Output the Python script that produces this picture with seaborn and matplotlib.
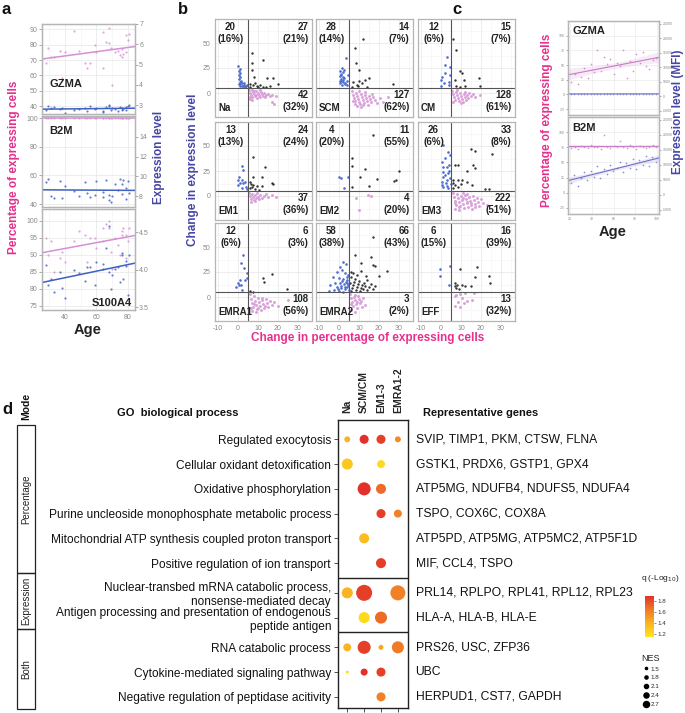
import numpy as np
import pandas as pd
import matplotlib
matplotlib.use('Agg')
import matplotlib.pyplot as plt
from matplotlib.colors import LinearSegmentedColormap, Normalize
from matplotlib.cm import ScalarMappable
from matplotlib.lines import Line2D
from matplotlib.patches import Rectangle
import seaborn as sns

# ---------------- data: panel a ----------------
a_age = [28, 29, 31, 33, 37, 38, 40, 46, 49, 53, 54, 56, 59, 60, 64, 64,
         66, 68, 68, 69, 70, 72, 74, 75, 76, 76, 77, 79, 79, 80, 81]
gzma_pct = [68, 78, 72, 72, 76, 58, 75, 89, 76, 68, 65, 68, 80, 75, 88, 65,
            82, 91, 81, 78, 54, 75, 76, 73, 77, 72, 74, 75, 86, 83, 87]
gzma_lvl = [2.75, 2.95, 2.85, 2.9, 2.8, 2.85, 2.6, 2.75, 2.8, 2.85, 2.7, 2.95, 2.8, 2.85, 2.7, 2.65,
            2.9, 2.95, 3.0, 2.75, 2.85, 2.8, 2.7, 2.9, 2.75, 2.85, 2.8, 2.9, 2.75, 2.95, 3.0]
b2m_pct = [100, 100, 100, 100, 100, 100, 100, 100, 100, 100, 100, 100, 100, 100, 100, 100,
           100, 100, 100, 100, 100, 100, 100, 100, 100, 100, 100, 100, 100, 100, 100]
b2m_lvl = [9.4, 9.7, 8.0, 7.8, 9.5, 7.8, 9.0, 8.5, 8.0, 9.4, 8.3, 7.9, 8.1, 9.5, 8.4, 7.9,
           9.6, 8.1, 7.6, 7.4, 8.0, 9.2, 8.6, 9.7, 9.2, 8.2, 9.6, 8.8, 7.7, 9.5, 8.3]
s100_pct = [95, 90, 94, 85, 89, 91, 88, 94, 97, 96, 88, 95, 95, 92, 98, 94,
            99, 98, 100, 91, 86, 95, 93, 90, 97, 96, 98, 89, 96, 94, 98]
s100_lvl = [4.06, 3.79, 3.88, 3.70, 3.97, 3.75, 3.62, 3.99, 3.95, 3.85, 4.03, 4.03, 3.79, 4.10, 4.08, 4.01,
            4.29, 4.58, 3.97, 3.74, 3.93, 4.01, 4.03, 3.83, 4.20, 4.22, 3.88, 4.05, 4.12, 3.66, 4.20]

# ---------------- data: panel b ----------------
subsets = ['Na', 'SCM', 'CM', 'EM1', 'EM2', 'EM3', 'EMRA1', 'EMRA2', 'EFF']
n_ul = ['20\n(16%)', '28\n(14%)', '12\n(6%)', '13\n(13%)', '4\n(20%)', '26\n(6%)', '12\n(6%)', '58\n(38%)', '6\n(15%)']
n_ur = ['27\n(21%)', '14\n(7%)', '15\n(7%)', '24\n(24%)', '11\n(55%)', '33\n(8%)', '6\n(3%)', '66\n(43%)', '16\n(39%)']
n_lr = ['42\n(32%)', '127\n(62%)', '128\n(61%)', '37\n(36%)', '4\n(20%)', '222\n(51%)', '108\n(56%)', '3\n(2%)', '13\n(32%)']

blue_pts = {
    'Na': [(0.2, 27), (0.8, 24), (0.5, 22), (1.2, 20), (0.3, 18), (0.9, 16), (0.4, 14), (1.5, 12), (0.8, 11), (2, 10),
           (1.2, 9), (3, 8.5), (2.5, 7.5), (4, 7), (3.5, 6.5), (1.8, 6.8), (4.5, 8), (0.6, 9.5), (2.8, 10.5), (1, 7.5)],
    'SCM': [(3.5, 35), (1.3, 25), (2.2, 21), (0.6, 22), (1, 19), (0.5, 17), (1.8, 16), (0.8, 14), (2.5, 15), (1.2, 12),
            (0.5, 10), (2, 11), (3, 9), (1.5, 8.5), (3.8, 12), (4.2, 8), (0.9, 18.5), (2.6, 23), (1.9, 13), (0.4, 12.5),
            (4.5, 18), (3.2, 10.5)],
    'CM': [(3, 36), (2.2, 28), (4.7, 26), (0.5, 16), (0.2, 13), (1.3, 10), (3.8, 11), (0.2, 7.5), (3.8, 8), (1.8, 20),
           (4.3, 18)],
    'EM1': [(1.8, 30), (2.3, 26), (0.7, 19), (0.2, 16), (1, 13), (2.7, 12.7), (4, 9.5), (0.2, 11), (1.8, 16), (3.5, 14),
            (2, 8), (4.5, 7)],
    'EM2': [(0, 18.7), (0.8, 17.7), (2.5, 7.7), (4.7, 18.7)],
    'EM3': [(0.8, 51), (3.7, 44), (4.5, 41), (2, 38), (1.2, 29), (2.8, 29), (0.8, 24), (3.7, 23), (1.2, 19), (4.5, 18),
            (0.3, 14), (2.5, 13), (4.8, 12), (1.2, 9), (3.7, 8), (2.8, 16), (0.5, 34), (4, 31), (1.8, 21), (3, 10.5),
            (0.6, 11.5), (4.2, 25)],
    'EMRA1': [(2.3, 42), (1.3, 34), (3, 29), (4.3, 24), (1, 17), (0.2, 14), (-1, 9.6), (1.3, 11.6), (3.5, 17), (4.3, 19),
              (0.5, 12), (2.2, 7.5)],
    'EMRA2': [(2, 35), (3.5, 33), (0.5, 30), (1.5, 27), (-1, 25), (3, 24), (4.5, 22), (-3, 20), (0, 19), (2, 18),
              (4, 17), (-4.5, 12), (-2, 14), (0.5, 14), (2.5, 13), (4.5, 12), (-1, 10), (1, 9), (3, 8), (4.8, 7),
              (-2.5, 7), (0, 6), (2, 5.5), (4, 10), (1.5, 16), (3.5, 15), (-0.5, 8.5), (0.8, 11.5), (2.8, 10.5),
              (4.2, 14), (-5, 6), (3.8, 20)],
    'EFF': [(4.3, 31), (-0.3, 28), (-0.7, 21), (3.8, 12.3)],
}
black_pts = {
    'Na': [(6.8, 40), (6.8, 30), (6.8, 23), (7.8, 16), (12.7, 33), (14.3, 15), (17.7, 15), (20.2, 9), (11, 8), (9.3, 7),
           (6, 9), (7.5, 8), (8.5, 10), (10, 6.5), (12.5, 6), (14, 6.5), (16, 7.5), (5.8, 6.2)],
    'SCM': [(12.2, 54), (8, 45), (8.5, 30), (10.2, 23), (13, 13), (15.2, 15), (26.8, 9), (7.2, 11), (8.8, 8), (11.3, 10),
            (13.8, 6.3), (6.3, 6.5), (10, 12.5), (9.5, 7)],
    'CM': [(6, 54), (7.7, 43), (9.7, 22), (10.5, 19.7), (11.3, 13), (19.2, 15.3), (19.3, 7.3), (7.7, 7.3), (9.7, 6.3),
           (11.8, 7), (6.8, 13)],
    'EM1': [(7.7, 39), (13.5, 29), (7.7, 19), (11.8, 19), (16.8, 13), (17.7, 12), (6, 14), (7.7, 11), (9.3, 10),
            (6.8, 9), (11.8, 10), (8.5, 7.5), (5.8, 8), (10.5, 6.5), (6.5, 12.5)],
    'EM2': [(17.2, 61), (6.3, 38.3), (6.7, 30), (12.8, 26.7), (10.3, 19.3), (19.2, 16.7), (30, 25.3), (27.5, 15.3),
            (28.7, 15.7), (15, 10), (6.7, 9.3)],
    'EM3': [(14.8, 47), (17, 45), (25.3, 42), (7, 31), (8.7, 31), (12.8, 25), (16.2, 31), (17, 28), (6.2, 16), (8.7, 16),
            (10.3, 16), (12.8, 14), (15.3, 11), (22, 7), (24.2, 7), (7, 11), (8.7, 9.3), (6, 13), (10, 12), (5.8, 8)],
    'EMRA1': [(12.7, 19), (13.2, 14.6), (16.8, 23.3), (24.3, 8), (7.7, 5.5), (5.8, 6)],
    'EMRA2': [(17, 60), (8, 42), (15.8, 40), (17.2, 32), (17.8, 30.6), (20, 21), (24.2, 25.6), (10.8, 34), (13.3, 20.6),
              (6, 6), (6.5, 9), (7, 12), (7.5, 15), (8, 18), (8.5, 7), (9, 10), (9.5, 13), (10, 16), (10.5, 6), (11, 9),
              (11.5, 12), (12, 8), (12.5, 14), (13, 11), (14, 7), (15, 10), (16, 13), (17, 8), (18, 11), (6, 20),
              (7, 24), (9, 22), (11, 26), (5.5, 14), (5.8, 25), (14, 17)],
    'EFF': [(9.7, 28), (18, 30), (17.2, 20), (24.2, 21.3), (24.7, 14), (6.8, 14), (8, 12.3), (7.2, 10.6), (10.5, 11.6),
            (12.2, 10.6), (15, 10.6), (8.8, 8.3), (7.5, 9)],
}
pink_pts = {
    'Na': [(5.5, 3), (6, 0), (6.5, -2), (7, -4), (7.5, 1), (8, -1), (8.5, -3), (9, 2), (9.5, -5), (10, 0), (10.5, -2),
           (11, -4), (11.5, 1), (12, -1), (12.5, -3), (13, 0), (14, -2), (15, -1), (16, -3), (17, -2), (6.2, -6),
           (7.2, -7), (8.2, 2.5), (5.8, -3.5), (9.2, -1.5), (6.8, 3.5), (13.5, -4), (18, -11), (17, -9), (19, -3),
           (10.8, 3)],
    'SCM': [(6.5, 2), (7, -2), (7.5, -5), (8, -8), (8.5, 0), (9, -3), (9.5, -6), (10, -9), (10.5, -11), (11, -1),
            (11.5, -4), (12, -7), (12.5, -10), (13, -2), (13.5, -5), (14, -8), (14.5, -12), (15, -3), (15.5, -6),
            (16, -9), (17, -4), (18, -7), (19, -10), (7.8, -11), (9.2, -13), (11.2, -14), (13.2, 1), (16.5, -1),
            (20.5, -5), (22, -9), (24.7, -4), (33, 4), (6.8, -8), (10.2, 2), (12.2, -12.5)],
    'CM': [(5.5, 2), (6, -1), (6.5, -4), (7, -7), (7.5, 1), (8, -2), (8.5, -5), (9, -8), (9.5, 0), (10, -3), (10.5, -6),
           (11, -9), (11.5, -1), (12, -4), (12.5, -7), (13, -2), (13.5, -5), (14, 0), (15, -3), (16, -1), (17, -4),
           (19.7, -2), (6.2, -9), (8.2, 3), (10.2, -10), (12.2, 1.5)],
    'EM1': [(5.5, 3), (6, 0), (6.5, -3), (7, 2), (7.5, -1), (8, -4), (8.5, 1), (9, -2), (9.5, 3), (10, -1), (10.5, -3),
            (11, 1), (12, -2), (13, 0), (14, 2), (15, -1), (17, 1), (19, -1), (6.3, -6), (8.3, -5)],
    'EM2': [(14.7, 1), (15.8, 0.3), (8.3, -2.3), (10, -14)],
    'EM3': [(6, 3), (6.5, -1), (7, -5), (7.5, -9), (8, 2), (8.5, -2), (9, -6), (9.5, -10), (10, 0), (10.5, -4),
            (11, -8), (11.5, -12), (12, 1), (12.5, -3), (13, -7), (13.5, -11), (14, -1), (14.5, -5), (15, -9),
            (15.5, -13), (16, 0), (16.5, -4), (17, -8), (18, -2), (18.5, -6), (19, -10), (20, -3), (21, -7),
            (22.8, -9), (7.2, -13), (9.2, -14), (11.2, 3), (13.2, 2.5), (6.8, -7), (8.8, -11), (10.8, -2),
            (12.8, -5.5), (14.8, -7), (16.8, -11)],
    'EMRA1': [(6, 3), (6.5, -2), (7, -6), (7.5, -10), (8, 1), (8.5, -4), (9, -8), (9.5, -12), (10, -1), (10.5, -5),
              (11, -9), (11.5, -13), (12, -3), (12.5, -7), (13, -11), (14, -2), (14.5, -6), (15, -10), (16, -4),
              (17, -8), (18, -5), (20, -9), (25, -3), (7.2, -14), (9.2, -15), (8.2, -7), (10.2, -10.5), (12.2, -0.5),
              (6.5, -11), (13.5, -8.5)],
    'EMRA2': [(5.5, 3), (6, -1), (6.5, -5), (7, -9), (7.5, 0), (8, -3), (8.5, -7), (9, -11), (9.5, 1), (10, -2),
              (10.5, -6), (11, -4), (12, -1), (13, -8), (6.2, -13), (7.8, -15), (9.2, -5), (11.5, -10), (5.8, -7),
              (8.2, 2.5)],
    'EFF': [(7.5, 2.3), (9.7, 3), (12.2, 4), (16.3, 4), (7.2, 0.6), (10.5, -1), (13, -3.7), (8.5, -5), (11.3, -6),
            (7.2, -9.3), (9.7, -10.3), (15.5, -2.7)],
}

# ---------------- data: panel c ----------------
c_age = [21, 24, 27, 30, 33, 36, 39, 42, 45, 48, 51, 54, 57, 60, 63, 66, 69, 72, 75, 78, 81, 84, 87, 90, 93, 96, 99]
c_gzma_pct = [22, 35, 18, 30, 45, 28, 52, 38, 76, 40, 64, 51, 60, 34, 53, 48, 76, 28, 57, 40, 69, 54, 73, 49, 44, 58, 62]
c_gzma_mfi = [750, 820, 790, 860, 700, 810, 880, 760, 830, 790, 900, 720, 810, 850, 780, 820, 760, 880, 800, 740,
              830, 790, 860, 810, 770, 840, 800]
c_b2m_pct = [74, 76, 73, 77, 75, 74, 78, 76, 75, 73, 95, 76, 74, 77, 75, 85, 76, 74, 78, 75, 73, 77, 76, 74, 75, 78, 76]
c_b2m_mfi = [4000, 6500, 3000, 5500, 7500, 5000, 8000, 6000, 9500, 5500, 8500, 7000, 10000, 8000, 9000, 11000, 7500,
             10500, 9000, 12000, 8500, 11500, 10000, 13000, 9500, 12500, 11000]

# ---------------- data: panel d ----------------
go_terms = ['Regulated exocytosis', 'Cellular oxidant detoxification', 'Oxidative phosphorylation',
            'Purine uncleoside monophosphate metabolic process',
            'Mitochondrial ATP synthesis coupled proton transport', 'Positive regulation of ion transport',
            'Nuclear-transbed mRNA catabolic process,\nnonsense-mediated decay',
            'Antigen processing and presentation of endogenous\npeptide antigen',
            'RNA catabolic process', 'Cytokine-mediated signaling pathway',
            'Negative regulation of peptidase acitivity']
go_mode = [0, 0, 0, 0, 0, 0, 1, 1, 2, 2, 2]
mode_names = ['Percentage', 'Expression', 'Both']
rep_genes = ['SVIP, TIMP1, PKM, CTSW, FLNA', 'GSTK1, PRDX6, GSTP1, GPX4', 'ATP5MG, NDUFB4, NDUFS5, NDUFA4',
             'TSPO, COX6C, COX8A', 'ATP5PD, ATP5MG, ATP5MC2, ATP5F1D', 'MIF, CCL4, TSPO',
             'PRL14, RPLPO, RPL41, RPL12, RPL23', 'HLA-A, HLA-B, HLA-E', 'PRS26, USC, ZFP36', 'UBC',
             'HERPUD1, CST7, GAPDH']
d_cols = ['Na', 'SCM/CM', 'EM1-3', 'EMRA1-2']
dot_term = [0, 0, 0, 0, 1, 1, 2, 2, 3, 3, 4, 5, 6, 6, 6, 7, 7, 8, 8, 8, 8, 9, 9, 9, 10]
dot_col = ['Na', 'SCM/CM', 'EM1-3', 'EMRA1-2', 'Na', 'EM1-3', 'SCM/CM', 'EM1-3', 'EM1-3', 'EMRA1-2', 'SCM/CM',
           'EM1-3', 'Na', 'SCM/CM', 'EMRA1-2', 'SCM/CM', 'EM1-3', 'Na', 'SCM/CM', 'EM1-3', 'EMRA1-2', 'Na',
           'SCM/CM', 'EM1-3', 'EM1-3']
dot_q = [1.40, 1.90, 1.85, 1.58, 1.30, 1.20, 1.90, 1.70, 1.85, 1.62, 1.35, 1.85, 1.40, 1.85, 1.62, 1.20, 1.70,
         1.40, 1.85, 1.45, 1.65, 1.18, 1.90, 1.85, 1.62]
dot_nes = [1.55, 1.81, 1.81, 1.55, 2.04, 1.71, 2.31, 1.92, 1.81, 1.71, 1.92, 1.92, 2.04, 2.80, 2.63, 2.04, 2.17,
           1.71, 2.31, 1.49, 2.17, 1.40, 1.63, 1.81, 1.81]
nes_legend = [1.5, 1.8, 2.1, 2.4, 2.7]

# ---------------- style ----------------
sns.set_theme(style='white')
plt.rcParams['font.family'] = ['Liberation Sans', 'DejaVu Sans']
plt.rcParams['axes.unicode_minus'] = False

PINK_TXT = '#E6308C'
BLUE_TXT = '#4646A6'
PINK = '#D690D3'
BLUE = '#3E5FC3'
PINK_B = '#D9A2DA'
BLUE_B = '#4C6CD2'
DARK = '#333333'
SPINE = '#B5B5B5'
TICKC = '#8A8A8A'

W, H = 685, 713
fig = plt.figure(figsize=(W / 100, H / 100), dpi=100)


def box(l, t, r, b):
    return [l / W, 1 - b / H, (r - l) / W, (b - t) / H]


def ftext(x, y, s, **kw):
    fig.text(x / W, 1 - y / H, s, **kw)


def gg(ax, size=5):
    for s in ax.spines.values():
        s.set_color(SPINE)
        s.set_linewidth(0.9)
    ax.tick_params(which='major', length=2, width=0.5, color=TICKC, labelsize=size, labelcolor=TICKC, pad=1)
    ax.tick_params(which='minor', length=0)


# ---------------- panel a ----------------
a_rows = [(24, 114), (116, 207), (209, 310)]
a_sets = [('GZMA', gzma_pct, gzma_lvl, (34.8, 93.5), [40, 50, 60, 70, 80, 90], (2.56, 6.99), [3, 4, 5, 6, 7]),
          ('B2M', b2m_pct, b2m_lvl, (38, 101.5), [40, 60, 80, 100], (6.9, 16.1), [8, 10, 12, 14]),
          ('S100A4', s100_pct, s100_lvl, (73.8, 103.5), [75, 80, 85, 90, 95, 100], (3.46, 4.81), [3.5, 4.0, 4.5])]
for i, (gene, pct, lvl, ylim, yt, ylim2, yt2) in enumerate(a_sets):
    ax = fig.add_axes(box(42, a_rows[i][0], 135, a_rows[i][1]))
    ax.set_xlim(25.5, 84.5)
    ax.set_ylim(*ylim)
    sns.regplot(x=a_age, y=pct, ax=ax, ci=None, truncate=False, color=PINK,
                scatter_kws=dict(s=2.5, linewidths=0), line_kws=dict(lw=1.1))
    ax.set_yticks(yt)
    ax.set_xticks([40, 60, 80])
    ax.set_xticks([30, 50, 70], minor=True)
    ax.grid(True, which='major', color='#E6E6E6', lw=0.5)
    ax.grid(True, which='minor', color='#F2F2F2', lw=0.4)
    ax.set_axisbelow(True)
    ax.set_xlabel('')
    ax.set_ylabel('')
    gg(ax)
    if i < 2:
        ax.tick_params(labelbottom=False, bottom=False)
    ax2 = ax.twinx()
    ax2.set_ylim(*ylim2)
    sns.regplot(x=a_age, y=lvl, ax=ax2, ci=None, truncate=False, color=BLUE,
                scatter_kws=dict(s=2.5, linewidths=0), line_kws=dict(lw=1.1))
    ax2.set_xlim(25.5, 84.5)
    ax2.set_yticks(yt2)
    ax2.set_ylabel('')
    ax2.grid(False)
    gg(ax2)
    if gene == 'GZMA':
        ax.text(0.08, 0.3, gene, transform=ax.transAxes, fontsize=8, fontweight='bold', color='#222222')
    elif gene == 'B2M':
        ax.text(0.08, 0.8, gene, transform=ax.transAxes, fontsize=8, fontweight='bold', color='#222222')
    else:
        ax.text(0.97, 0.04, gene, transform=ax.transAxes, fontsize=8, fontweight='bold', color='#222222', ha='right')

ftext(14, 167, 'Percentage of expressing cells', rotation=90, ha='center', va='center', fontsize=8.5,
      fontweight='bold', color=PINK_TXT)
ftext(159, 157, 'Expression level', rotation=90, ha='center', va='center', fontsize=8.5,
      fontweight='bold', color=BLUE_TXT)
ftext(88, 330, 'Age', ha='center', va='center', fontsize=10.5, fontweight='bold', color='#222222')

# ---------------- panel b ----------------
b_lefts = [215, 316, 418]
b_tops = [19, 122, 223]
for k, name in enumerate(subsets):
    r, c = divmod(k, 3)
    ax = fig.add_axes(box(b_lefts[c], b_tops[r], b_lefts[c] + 97, b_tops[r] + 98))
    for pts, col, sz in ((pink_pts[name], PINK_B, 4.5), (black_pts[name], DARK, 3), (blue_pts[name], BLUE_B, 3.5)):
        xy = np.array(pts, dtype=float)
        sns.scatterplot(x=xy[:, 0], y=xy[:, 1], ax=ax, color=col, s=sz, linewidth=0)
    ax.set_xlim(-11.5, 37)
    ax.set_ylim(-24, 74)
    ax.set_xticks([-10, 0, 10, 20, 30])
    ax.set_xticks([-5, 5, 15, 25, 35], minor=True)
    ax.set_yticks([0, 25, 50])
    ax.set_yticks([-12.5, 12.5, 37.5, 62.5], minor=True)
    ax.grid(True, which='major', color='#E6E6E6', lw=0.5)
    ax.grid(True, which='minor', color='#F3F3F3', lw=0.4)
    ax.set_axisbelow(True)
    ax.axvline(5, color='#555555', lw=0.8)
    ax.axhline(5, color='#555555', lw=0.8)
    gg(ax)
    if r < 2:
        ax.tick_params(labelbottom=False)
    if c > 0:
        ax.tick_params(labelleft=False)
    kw = dict(transform=ax.transAxes, fontsize=7, fontweight='bold', color='#222222', va='center')
    ax.text(0.16, 0.86, n_ul[k], ha='center', multialignment='center', **kw)
    ax.text(0.965, 0.86, n_ur[k], ha='right', multialignment='right', **kw)
    ax.text(0.965, 0.165, n_lr[k], ha='right', multialignment='right', **kw)
    ax.text(0.03, 0.09, name, ha='left', **kw)

ftext(193, 170, 'Change in expression level', rotation=90, ha='center', va='center', fontsize=8.5,
      fontweight='bold', color=BLUE_TXT)
ftext(368, 338, 'Change in percentage of expressing cells', ha='center', va='center', fontsize=8.5,
      fontweight='bold', color=PINK_TXT)

# ---------------- panel c ----------------
c_sets = [('GZMA', c_gzma_pct, c_gzma_mfi, (21, 115)), ('B2M', c_b2m_pct, c_b2m_mfi, (117, 214))]
for j, (gene, pct, mfi, (t, b)) in enumerate(c_sets):
    ax = fig.add_axes(box(568, t, 659, b))
    ax.set_xlim(18, 102)
    ax.set_ylim(-35, 125)
    sns.regplot(x=c_age, y=pct, ax=ax, ci=95, truncate=False, color='#C67CC4',
                scatter_kws=dict(s=1.5, linewidths=0), line_kws=dict(lw=0.8))
    ax.set_xticks([20, 40, 60, 80, 100])
    ax.set_yticks([-25, 0, 25, 50, 75, 100])
    ax.grid(True, which='major', color='#EBEBEB', lw=0.5)
    ax.set_axisbelow(True)
    ax.set_xlabel('')
    ax.set_ylabel('')
    gg(ax, size=2.5)
    ax.tick_params(length=1.5)
    if j == 0:
        ax.tick_params(labelbottom=False)
    ax2 = ax.twinx()
    ax2.set_ylim(-6500, 26000)
    sns.regplot(x=c_age, y=mfi, ax=ax2, ci=95, truncate=False, color='#7070CC',
                scatter_kws=dict(s=1.5, linewidths=0), line_kws=dict(lw=0.8))
    ax2.set_xlim(18, 102)
    ax2.set_yticks([-5000, 0, 5000, 10000, 15000, 20000, 25000])
    ax2.set_ylabel('')
    ax2.grid(False)
    gg(ax2, size=2.5)
    ax2.tick_params(length=1.5)
    ax.text(0.05, 0.86, gene, transform=ax.transAxes, fontsize=8, fontweight='bold', color='#222222')

ftext(547, 120, 'Percentage of expressing cells', rotation=90, ha='center', va='center', fontsize=8.5,
      fontweight='bold', color=PINK_TXT)
ftext(678, 112, 'Expression level (MFI)', rotation=90, ha='center', va='center', fontsize=8.5,
      fontweight='bold', color=BLUE_TXT)
ftext(613, 232, 'Age', ha='center', va='center', fontsize=10.5, fontweight='bold', color='#222222')

# ---------------- panel d ----------------
ypos = [i + 0.2 * g for i, g in enumerate(go_mode)]
dd = pd.DataFrame({'x': [d_cols.index(c) for c in dot_col],
                   'y': [ypos[t] for t in dot_term],
                   'q': dot_q, 'NES': dot_nes})
cmap = LinearSegmentedColormap.from_list('q', ['#FFE31E', '#F9B422', '#F07A26', '#E3302A'])
qnorm = Normalize(1.15, 1.9)
axd = fig.add_axes(box(338, 420, 408, 708))
sns.scatterplot(data=dd, x='x', y='y', hue='q', size='NES', palette=cmap, hue_norm=qnorm,
                sizes=(4.7, 133), size_norm=(1.4, 2.8), legend=False, linewidth=0, ax=axd)
axd.set_xlim(-0.55, 3.6)
axd.set_ylim(10.85, -0.78)
axd.set_yticks(ypos)
axd.set_yticklabels(go_terms, fontsize=8.6, ha='right', multialignment='right')
axd.set_xticks(range(len(d_cols)))
axd.set_xticklabels(d_cols, rotation=90, fontsize=7.5, fontweight='bold')
axd.tick_params(axis='x', bottom=True, top=False, labelbottom=False, labeltop=True, length=3, width=0.6,
                color='#333333', pad=2)
axd.tick_params(axis='y', left=True, length=3, width=0.6, color='#333333', pad=2, labelcolor='#111111')
for s in axd.spines.values():
    s.set_color('#222222')
    s.set_linewidth(1.0)
for sep in (5.6, 7.8):
    axd.axhline(sep, color='#222222', lw=1.0)
axd.set_xlabel('')
axd.set_ylabel('')
for g, y in enumerate(ypos):
    axd.text(4.05, y, rep_genes[g], fontsize=8.7, va='center', ha='left', color='#111111', clip_on=False)

# mode column
mode_spans = [(425, 573), (573, 629), (629, 709)]
for name, (t, b) in zip(mode_names, mode_spans):
    fig.add_artist(Rectangle((17 / W, 1 - b / H), 18 / W, (b - t) / H, transform=fig.transFigure,
                             fill=False, edgecolor='#222222', lw=0.9))
    ftext(26, (t + b) / 2, name, rotation=90, ha='center', va='center', fontsize=7, color='#222222')
ftext(26, 406, 'Mode', rotation=90, ha='center', va='center', fontsize=7.5, fontweight='bold', color='#111111')
ftext(178, 413, 'GO  biological process', ha='center', va='center', fontsize=8, fontweight='bold', color='#111111')
ftext(423, 413, 'Representative genes', ha='left', va='center', fontsize=8, fontweight='bold', color='#111111')

# colour bar
cax = fig.add_axes(box(645, 596, 654, 637))
cb = fig.colorbar(ScalarMappable(norm=qnorm, cmap=cmap), cax=cax, ticks=[1.2, 1.4, 1.6, 1.8])
cb.outline.set_visible(False)
cax.tick_params(labelsize=4.5, length=1.5, width=0.4, pad=1, colors='#333333')
ftext(660, 578, 'q (-Log$_{10}$)', ha='center', va='center', fontsize=6, color='#222222')

# NES legend
handles = [Line2D([], [], ls='', marker='o', color='black', markersize=1.6 + (v - 1.5) * 2.3) for v in nes_legend]
fig.legend(handles, [str(v) for v in nes_legend], title='NES', loc='upper left',
           bbox_to_anchor=(638 / W, 1 - 650 / H), frameon=False, fontsize=4.5, title_fontsize=6.5,
           labelspacing=0.55, handletextpad=0.3, handlelength=1.0, borderpad=0.1)

# panel letters
for letter, (x, y) in zip('abcd', [(2, 10), (178, 10), (452, 10), (2, 410)]):
    ftext(x, y, letter, fontsize=12, fontweight='bold', va='center', ha='left', color='#111111')

fig.savefig('out.png', dpi=100)
